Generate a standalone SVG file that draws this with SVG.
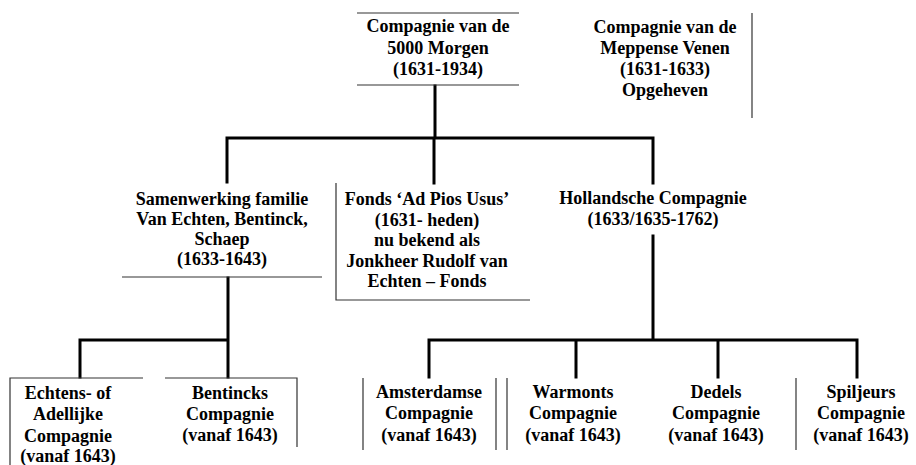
<svg xmlns="http://www.w3.org/2000/svg" width="916" height="465" viewBox="0 0 916 465">
<style>
text{font-family:"Liberation Serif","Times New Roman",serif;font-weight:bold;font-size:18px;fill:#000;text-anchor:middle}
.b{stroke:#333;stroke-width:1.2;fill:none}
.c{stroke:#000;stroke-width:3;fill:none;stroke-linecap:square}
</style>
<rect width="916" height="465" fill="#fff"/>
<g id="connectors">
<path class="c" d="M435 86V138M227 138H653M227 138V182M434 138V183M653 138V183"/>
<path class="c" d="M653 236V340M429 340H857M429 340V377M576 340V377M718 340V377M857 340V377"/>
<path class="c" d="M228 278V377M80 340H228M80 340V377"/>
</g>
<g id="n-5000">
<path class="b" d="M357 13H519M357 85H519"/>
<text x="438" y="32">Compagnie van de</text>
<text x="438" y="54">5000 Morgen</text>
<text x="438" y="75">(1631-1934)</text>
</g>
<g id="n-meppense">
<path class="b" d="M752 13V118"/>
<text x="665" y="33">Compagnie van de</text>
<text x="665" y="54">Meppense Venen</text>
<text x="665" y="75">(1631-1633)</text>
<text x="665" y="96">Opgeheven</text>
</g>
<g id="n-samenwerking">
<path class="b" d="M122 277H322"/>
<text x="222" y="205">Samenwerking familie</text>
<text x="222" y="225">Van Echten, Bentinck,</text>
<text x="222" y="245">Schaep</text>
<text x="222" y="265">(1633-1643)</text>
</g>
<g id="n-fonds">
<path class="b" d="M336 183V300H530"/>
<text x="427" y="205">Fonds ‘Ad Pios Usus’</text>
<text x="427" y="226">(1631- heden)</text>
<text x="427" y="246">nu bekend als</text>
<text x="427" y="267">Jonkheer Rudolf van</text>
<text x="427" y="287">Echten – Fonds</text>
</g>
<g id="n-hollandsche">
<text x="653" y="204">Hollandsche Compagnie</text>
<text x="653" y="225">(1633/1635-1762)</text>
</g>
<g id="n-echtens">
<path class="b" d="M10 465V378H143"/>
<text x="68" y="399">Echtens- of</text>
<text x="68" y="420">Adellijke</text>
<text x="68" y="442">Compagnie</text>
<text x="68" y="462">(vanaf 1643)</text>
</g>
<g id="n-bentincks">
<path class="b" d="M165 378H297V447"/>
<text x="230" y="399">Bentincks</text>
<text x="230" y="420">Compagnie</text>
<text x="230" y="441">(vanaf 1643)</text>
</g>
<g id="n-amsterdamse">
<path class="b" d="M363 378V450M496 378V450"/>
<text x="429" y="398">Amsterdamse</text>
<text x="429" y="419">Compagnie</text>
<text x="429" y="441">(vanaf 1643)</text>
</g>
<g id="n-warmonts">
<path class="b" d="M507 378V450"/>
<text x="573" y="398">Warmonts</text>
<text x="573" y="419">Compagnie</text>
<text x="573" y="441">(vanaf 1643)</text>
</g>
<g id="n-dedels">
<text x="716" y="398">Dedels</text>
<text x="716" y="419">Compagnie</text>
<text x="716" y="441">(vanaf 1643)</text>
</g>
<g id="n-spiljeurs">
<path class="b" d="M796 378V450"/>
<text x="861" y="398">Spiljeurs</text>
<text x="861" y="419">Compagnie</text>
<text x="861" y="441">(vanaf 1643)</text>
</g>
</svg>
